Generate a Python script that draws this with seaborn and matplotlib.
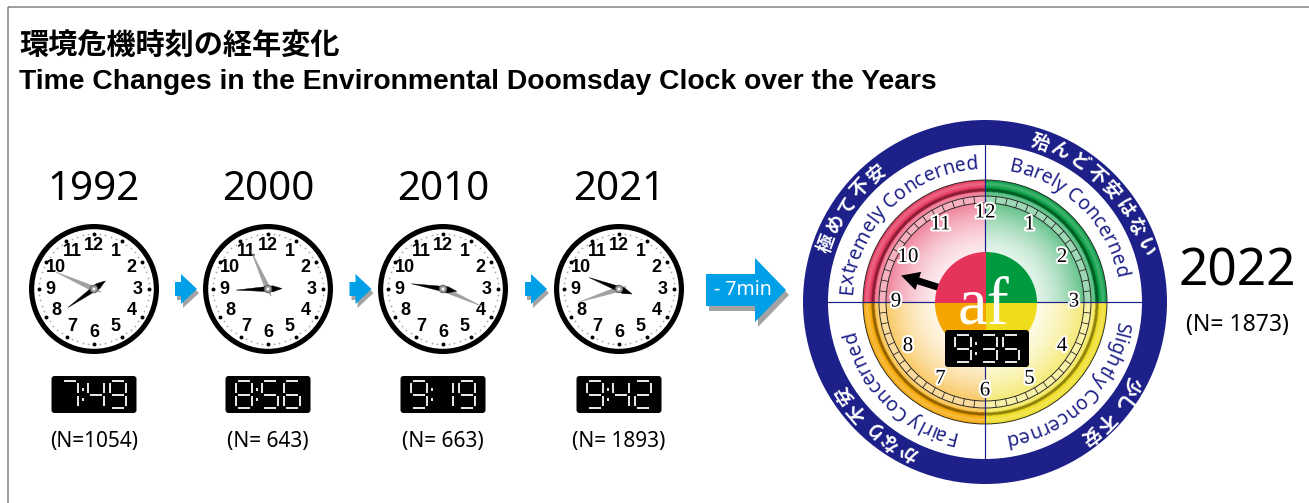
import numpy as np
import pandas as pd
import matplotlib
matplotlib.use("Agg")
import matplotlib.pyplot as plt
import matplotlib.patheffects as pe
import seaborn as sns
from matplotlib import font_manager
from matplotlib.ft2font import FT2Font
from matplotlib.colors import to_rgb
from matplotlib.patches import Circle, Wedge, Polygon, FancyBboxPatch, FancyArrow, Rectangle
from matplotlib.collections import LineCollection

# --- data ---
years = [1992, 2000, 2010, 2021]
times = ["7:49", "8:56", "9:19", "9:42"]
n_labels = ["(N=1054)", "(N= 643)", "(N= 663)", "(N= 1893)"]

now_year = "2022"
now_time = "9:35"
now_label = "(N= 1873)"
change_label = "- 7min"

# quadrants clockwise from 12 o'clock
zones_en = ["Barely Concerned", "Slightly Concerned", "Fairly Concerned", "Extremely Concerned"]
zones_ja = ["殆んど不安はない", "少し不安", "かなり不安", "極めて不安"]
zone_colors = ["#009a3e", "#efdc1c", "#f5a500", "#e5335a"]
ja_centers = [45, 131, 222, 305]

title_ja = "環境危機時刻の経年変化"
title_en = "Time Changes in the Environmental Doomsday Clock over the Years"

W, H, DPI = 1309, 503, 100
PT = 72 / DPI  # px -> pt

sns.set_theme(style="white")
names = {f.name for f in font_manager.fontManager.ttflist}


def pick(cands):
    for c in cands:
        if c in names:
            return c
    return "DejaVu Sans"


SANS = pick(["Noto Sans", "Open Sans", "DejaVu Sans"])
BOLD = pick(["Liberation Sans", "DejaVu Sans"])
SERIF = pick(["Liberation Serif", "DejaVu Serif"])
CJK = "Noto Sans CJK JP"
plt.rcParams["font.family"] = [SANS, CJK, "DejaVu Sans"]
plt.rcParams["text.color"] = "black"

fig = plt.figure(figsize=(W / DPI, H / DPI), dpi=DPI)
ax = fig.add_axes([0, 0, 1, 1])
ax.set_xlim(0, W)
ax.set_ylim(H, 0)


def polar(cx, cy, r, deg):
    t = np.radians(deg)
    return cx + r * np.sin(t), cy - r * np.cos(t)


def angles(t):
    h, m = map(int, t.split(":"))
    return (h % 12 + m / 60) * 30, m * 6


def hand(cx, cy, deg, tip, tail, wide_at, width, color, z):
    t = np.radians(deg)
    u = np.array([np.sin(t), -np.cos(t)])
    v = np.array([np.cos(t), np.sin(t)])
    c = np.array([cx, cy])
    pts = [c - u * tail, c + u * wide_at + v * width / 2, c + u * tip, c + u * wide_at - v * width / 2]
    ax.add_patch(Polygon(pts, closed=True, fc=color, ec=color, lw=0.3, zorder=z))


SEGS = {"0": "abcdef", "1": "bc", "2": "abged", "3": "abgcd", "4": "fgbc",
        "5": "afgcd", "6": "afgedc", "7": "abc", "8": "abcdefg", "9": "abcdfg"}


def seg_display(cx, cy, text, w=85, h=37, z=10):
    ax.add_patch(FancyBboxPatch((cx - w / 2, cy - h / 2), w, h,
                                boxstyle="round,pad=0,rounding_size=3",
                                fc="black", ec="none", zorder=z))
    hh, mm = text.split(":")
    chars = [hh[-1], ":", mm[0], mm[1]]
    offs = [-24, -11, 2, 24]
    dw, dh, g = 16, 27, 1.6
    lines = []
    for ch, o in zip(chars, offs):
        x0 = cx + o
        if ch == ":":
            lines += [[(x0, cy - 6.5), (x0, cy - 3.5)], [(x0, cy + 3.5), (x0, cy + 6.5)]]
            continue
        l, r = x0 - dw / 2, x0 + dw / 2
        t, m, b = cy - dh / 2, cy, cy + dh / 2
        seg = {"a": [(l + g, t), (r - g, t)], "b": [(r, t + g), (r, m - g)],
               "c": [(r, m + g), (r, b - g)], "d": [(l + g, b), (r - g, b)],
               "e": [(l, m + g), (l, b - g)], "f": [(l, t + g), (l, m - g)],
               "g": [(l + g, m), (r - g, m)]}
        lines += [seg[s] for s in SEGS[ch]]
    ax.add_collection(LineCollection(lines, colors="white", linewidths=1.8 * PT,
                                     capstyle="butt", zorder=z + 1))


def arrow(x0, xb, xt, cy, bh, hh, shadow):
    pts = np.array([(x0, cy - bh), (xb, cy - bh), (xb, cy - hh), (xt, cy),
                    (xb, cy + hh), (xb, cy + bh), (x0, cy + bh)])
    ax.add_patch(Polygon(pts + shadow, closed=True, fc="#a3a3a3", ec="none", zorder=3))
    ax.add_patch(Polygon(pts, closed=True, fc="#00a0e9", ec="none", zorder=4))


def arc_text(text, cx, cy, r, center, size, color, family, weight="normal", pitch=None):
    if pitch is None:
        font = FT2Font(font_manager.findfont(font_manager.FontProperties(family=family, weight=weight)))
        font.set_size(size, DPI)
        adv = [font.load_char(ord(c)).linearHoriAdvance / 65536 for c in text]
    else:
        adv = [pitch] * len(text)
    total = sum(adv)
    s = 0
    for ch, a in zip(text, adv):
        deg = center + np.degrees((s + a / 2 - total / 2) / r)
        x, y = polar(cx, cy, r, deg)
        ax.text(x, y, ch, fontsize=size, color=color, family=[family], fontweight=weight,
                ha="center", va="baseline", rotation=-deg, rotation_mode="anchor", zorder=12)
        s += a


# --- frame and titles ---
ax.add_patch(Rectangle((8, 7), 1400, 600, fill=False, ec="#808080", lw=1.5 * PT, zorder=0))
ax.text(19, 45, title_ja, fontsize=21, fontweight="bold", family=[CJK], va="center", ha="left")
ax.text(19, 82, title_en, fontsize=20.3, fontweight="bold", family=[BOLD], va="center", ha="left")

# --- small clocks ---
cxs = [94, 268, 443, 619]
CY, R = 289, 65
rows = []
for cx in cxs:
    for k in range(60):
        x, y = polar(cx, CY, 55, k * 6)
        rows.append({"x": x, "y": y, "kind": "major" if k % 5 == 0 else "minor"})
dots = pd.DataFrame(rows)

for i, (cx, yr, t, nl) in enumerate(zip(cxs, years, times, n_labels)):
    ax.add_patch(Circle((cx, CY), R - 2.6, fc="white", ec="black", lw=5.2 * PT, zorder=1))
    for k in range(1, 13):
        x, y = polar(cx, CY, 43.5, k * 30)
        ax.text(x, y, str(k), fontsize=13, fontweight="bold", family=[BOLD],
                ha="center", va="center", zorder=3)
    hdeg, mdeg = angles(t)
    hand(cx, CY, mdeg, 43, 8, 2, 5, "#a0a0a0", 4)
    hand(cx, CY, hdeg, 32, 14, -5, 6, "black", 5)
    ax.add_patch(Circle((cx, CY), 3.8, fc="#9a9a9a", ec="#555555", lw=0.6, zorder=6))
    ax.add_patch(Circle((cx, CY), 1.4, fc="white", ec="none", zorder=7))
    ax.text(cx, 190, str(yr), fontsize=29, family=[SANS], ha="center", va="center")
    seg_display(cx, 394.5, t)
    ax.text(cx, 441, nl, fontsize=15, family=[SANS], ha="center", va="center")
    if i < len(cxs) - 1:
        mid = (cx + cxs[i + 1]) / 2
        arrow(mid - 6, mid, mid + 16, 289, 7, 15, np.array([2, 4]))

sns.scatterplot(data=dots[dots.kind == "minor"], x="x", y="y", color="#a8a8a8", s=1.6,
                linewidth=0, ax=ax, legend=False, zorder=2)
sns.scatterplot(data=dots[dots.kind == "major"], x="x", y="y", color="black", s=8,
                linewidth=0, ax=ax, legend=False, zorder=2)

# --- change arrow ---
arrow(706, 755, 786, 290, 16, 32, np.array([3, 5]))
ax.text(743, 290, change_label, fontsize=14, color="white", family=[SANS],
        ha="center", va="center", zorder=5)

# --- big clock ---
BX, BY = 985, 302
ax.add_patch(Wedge((BX, BY), 182, 0, 360, width=25, fc="#1d2088", ec="none", zorder=1))

S = 2
RO = 122
n = 2 * RO * S
cc = (np.arange(n) + 0.5) / S - RO
X, Y = np.meshgrid(cc, cc)
rr = np.hypot(X, Y)
quad = np.where(X >= 0, np.where(Y < 0, 0, 1), np.where(Y >= 0, 2, 3))
base = np.array([to_rgb(c) for c in zone_colors])[quad]
mix = np.where(rr < 99, 0.6 * (rr / 99) ** 2.6, 0.0)
mix = np.where((rr >= 99) & (rr < 106), 0.38, mix)
mix = np.where((rr >= 106) & (rr < 110), 0.6, mix)
mix = np.where(rr >= 110, 1 - 0.25 * np.exp(-((rr - 118) / 2.5) ** 2), mix)
col = (1 - mix[..., None]) + base * mix[..., None]
dark = (rr >= 110.5) & (rr < 113.5)
col[dark] = base[dark] * 0.6
alpha = np.clip((RO - rr) * S + 0.5, 0, 1)
img = np.dstack([col, alpha])
ax.imshow(img, extent=(BX - RO, BX + RO, BY + RO, BY - RO), origin="upper",
          interpolation="bilinear", zorder=2, aspect="auto")

for rad in (122, 106, 99):
    ax.add_patch(Circle((BX, BY), rad, fill=False, ec="#222222", lw=0.9 * PT, zorder=3))
ticks = [[polar(BX, BY, 99, k * 6), polar(BX, BY, 106, k * 6)] for k in range(60)]
ax.add_collection(LineCollection(ticks, colors="#222222", linewidths=0.8 * PT, zorder=3))

ax.plot([BX - 157, BX + 157], [BY, BY], color="#1d2088", lw=1.2 * PT, zorder=4)
ax.plot([BX, BX], [BY - 157, BY + 157], color="#1d2088", lw=1.2 * PT, zorder=4)

for k in range(1, 13):
    x, y = polar(BX, BY, 89, k * 30)
    ax.text(x, y, str(k), fontsize=15, family=[SERIF], ha="center", va="center", zorder=5,
            path_effects=[pe.withStroke(linewidth=3, foreground="white")])

hdeg, _ = angles(now_time)
tx, ty = polar(BX, BY, 88, hdeg)
ax.add_patch(FancyArrow(BX, BY, tx - BX, ty - BY, width=7, head_width=19, head_length=18,
                        length_includes_head=True, fc="black", ec="none", zorder=6))

for k, c in enumerate(zone_colors):
    ax.add_patch(Wedge((BX + 1, BY + 1), 51, 270 + 90 * k, 360 + 90 * k, fc=c, ec="none", zorder=7))
ax.text(BX - 1, 323, "af", fontsize=48, color="white", family=[SERIF], ha="center",
        va="baseline", zorder=8)
seg_display(BX + 2, 348.5, now_time, w=84, h=37, z=9)

for k, label in enumerate(zones_en):
    arc_text(label, BX, BY, 133, 45 + 90 * k, 14, "#1d2088", SANS)
for label, cdeg in zip(zones_ja, ja_centers):
    arc_text(label, BX, BY, 163, cdeg, 13.5, "white", CJK, weight="bold", pitch=21)

ax.text(1237, 272, now_year, fontsize=37, family=[SANS], ha="center", va="center")
ax.text(1237, 325, now_label, fontsize=16.5, family=[SANS], ha="center", va="center")

ax.set_xlim(0, W)
ax.set_ylim(H, 0)
ax.axis("off")
fig.savefig("out.png", dpi=DPI)
